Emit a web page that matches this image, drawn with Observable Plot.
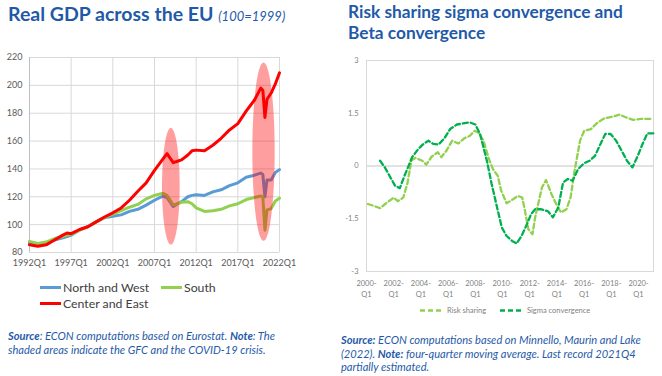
<!DOCTYPE html>
<html><head><meta charset="utf-8">
<script src="https://cdn.jsdelivr.net/npm/d3@7"></script>
<script src="https://cdn.jsdelivr.net/npm/@observablehq/plot@0.6"></script>
<style>
html,body{margin:0;padding:0;background:#fff;}
#wrap{position:relative;width:662px;height:376px;overflow:hidden;font-family:Lato,"Open Sans",sans-serif;}
#left,#right,#overlay{position:absolute;}
#left{left:0;top:40px;}
#right{left:330px;top:50px;}
#overlay{left:0;top:0;}
</style></head><body>
<div id="wrap"><div id="left"></div><div id="right"></div><svg id="overlay" width="662" height="376"></svg></div>
<script>
// ---------- Left chart data: Real GDP (100=1999) ----------
const gdpQuarters = ["1992Q1","1993Q1","1994Q1","1995Q1","1996Q1","1996Q3","1997Q1","1998Q1","1999Q1","2000Q1",
  "2001Q1","2002Q1","2003Q1","2004Q1","2005Q1","2006Q1","2007Q1","2008Q1","2008Q3","2009Q2",
  "2009Q4","2010Q2","2011Q1","2011Q3","2012Q1","2013Q1","2014Q1","2015Q1","2016Q1","2017Q1",
  "2018Q1","2019Q1","2019Q4","2020Q1","2020Q2","2020Q3","2021Q1","2021Q3","2022Q1"];
const northWest = [87,86,87,89,90.5,91.5,92.5,96,98.5,102,
  105,106,107,109.5,111,114,117.5,120.5,119.5,113,
  115,116.5,120,121,121.5,121,123.5,125,128,130,
  134,135.5,137,136,120,132,132,137.5,139.5];
const south = [88,86.5,87.5,90,91.5,92.5,93,96,98.5,102,
  105,107.5,110,112.5,114.5,118.5,121,122.5,121,114,
  115,116,116.5,115,112,109.5,110,111,113.5,115,
  118,119.5,120.5,120,96,110.5,111.5,117,119];
const centerEast = [85.5,84.5,85.5,89,92.5,94,93.5,96.5,98.5,102,
  105.5,108.5,112,117.5,124,130,139,147,151,144.5,
  145.5,146.5,150,153,153.5,153,157,162,168,172.5,
  181.5,189.5,198,196.5,177,190,194.5,201,209];
const gdpSeries = ["North and West","South","Center and East"];
const gdpColors = ["#5b9bd5","#92d050","#ff0000"];
const gdpYTicks = [80,100,120,140,160,180,200,220];
const gdpXTicks = ["1992Q1","1997Q1","2002Q1","2007Q1","2012Q1","2017Q1","2022Q1"];
// shaded crises (centre, half-width in years, centre value, half-height)
const crisisNames = ["GFC","COVID-19"];
const crisisCx = [2009.02, 2020.14];
const crisisRx = [1.06, 1.34];
const crisisCy = [127.2, 152];
const crisisRy = [41.9, 64];

// ---------- Right chart data ----------
const riskSharingT = [2000.1,2000.5,2001.0,2001.5,2002.0,2002.3,2002.7,2003.0,2003.3,2003.6,
  2004.1,2004.4,2004.8,2005.25,2005.5,2005.9,2006.3,2006.75,2007.2,2007.6,
  2007.95,2008.2,2008.6,2009.0,2009.3,2009.65,2009.9,2010.3,2010.8,2011.15,
  2011.45,2011.65,2011.9,2012.2,2012.4,2012.9,2013.2,2013.6,2014.0,2014.3,
  2014.7,2015.0,2015.3,2015.7,2016.0,2016.5,2017.0,2017.5,2018.1,2018.6,
  2019.1,2019.6,2020.2,2021.05];
const riskSharing = [-1.08,-1.13,-1.2,-1.04,-0.9,-1.0,-0.9,-0.51,0.15,0.23,
  0.15,0.04,0.27,0.39,0.25,0.45,0.72,0.64,0.79,0.86,
  1.0,0.96,0.72,0.2,-0.09,-0.28,-0.7,-1.06,-0.94,-0.85,
  -0.9,-1.27,-1.8,-1.94,-1.46,-0.61,-0.4,-0.8,-1.13,-1.32,
  -1.23,-0.9,-0.13,0.72,1.0,1.05,1.24,1.36,1.4,1.46,
  1.38,1.31,1.34,1.34];
const sigmaT = [2001.0,2001.35,2001.75,2002.1,2002.45,2002.75,2003.05,2003.35,2003.8,2004.2,
  2004.55,2004.9,2005.3,2005.75,2006.15,2006.65,2007.1,2007.6,2008.0,2008.35,
  2008.6,2008.85,2009.2,2009.6,2009.95,2010.3,2010.7,2011.05,2011.4,2011.8,
  2012.1,2012.4,2012.85,2013.35,2013.7,2014.1,2014.45,2014.8,2015.15,2015.55,
  2016.0,2016.4,2016.8,2017.15,2017.55,2017.95,2018.35,2018.75,2019.15,2019.55,
  2019.9,2020.3,2020.65,2021.1];
const sigma = [0.15,-0.04,-0.32,-0.56,-0.63,-0.32,-0.04,0.25,0.48,0.63,
  0.72,0.63,0.61,0.8,1.05,1.18,1.21,1.24,1.18,0.91,
  0.53,0.15,-0.51,-1.18,-1.75,-1.99,-2.13,-2.2,-1.99,-1.65,
  -1.37,-1.23,-1.23,-1.29,-1.46,-1.18,-0.47,-0.37,-0.42,-0.09,
  0.08,0.15,0.29,0.58,0.91,0.91,0.72,0.44,0.15,-0.04,
  0.25,0.63,0.93,0.93];
const sigmaYTicks = [3,1.5,0,-1.5,-3];
const sigmaXTicks = [2000,2002,2004,2006,2008,2010,2012,2014,2016,2018,2020];
const sigmaSeries = ["Risk sharing","Sigma convergence"];
const sigmaColors = ["#92d050","#00b050"];

const FONT = 'Lato, "Open Sans", sans-serif';
const toYear = q => +q.slice(0,4) + (+q.slice(5) - 1) / 4;

// ---------- Left chart ----------
const gdpValues = [northWest, south, centerEast];
const ellipseRows = crisisNames.flatMap((name, i) =>
  d3.range(0, 61).map(k => {
    const a = Math.PI * k / 60;
    return {label: name, x: crisisCx[i] + crisisRx[i] * Math.cos(a),
            lo: crisisCy[i] - crisisRy[i] * Math.sin(a), hi: crisisCy[i] + crisisRy[i] * Math.sin(a)};
  }));
const left = Plot.plot({
  width: 305, height: 230, marginLeft: 29, marginRight: 26, marginTop: 17, marginBottom: 18,
  style: {fontFamily: FONT, background: "transparent"},
  x: {domain: [1992, 2022], axis: null},
  y: {domain: [80, 220], axis: null},
  marks: [
    Plot.ruleY(gdpYTicks, {stroke: "#d9d9d9"}),
    Plot.ruleX(gdpXTicks.map(toYear), {stroke: "#d9d9d9"}),
    Plot.ruleX([1992], {stroke: "#bfbfbf"}),
    ...gdpSeries.map((s, i) => Plot.line(gdpQuarters, {
      x: toYear, y: (d, j) => gdpValues[i][j], stroke: gdpColors[i], strokeWidth: 3, strokeLinejoin: "round"})),
    Plot.area(ellipseRows, {x1: "x", y1: "lo", y2: "hi", z: "label", fill: "#ff0000", fillOpacity: 0.38}),
    Plot.text(gdpYTicks, {y: d => d, text: d => String(d), frameAnchor: "left", dx: -7, textAnchor: "end", fontSize: 9, fill: "#595959"}),
    Plot.text(gdpXTicks, {x: toYear, text: d => d, frameAnchor: "bottom", dy: 13, fontSize: 9, fill: "#595959"})
  ]
});
document.getElementById("left").appendChild(left);

// ---------- Right chart ----------
const sigmaRows = [riskSharingT.map((t, i) => ({t, v: riskSharing[i]})), sigmaT.map((t, i) => ({t, v: sigma[i]}))];
const right = Plot.plot({
  width: 332, height: 250, marginLeft: 36, marginRight: 9, marginTop: 10, marginBottom: 29,
  style: {fontFamily: FONT, background: "transparent"},
  x: {domain: [2000, 2021.1], axis: null},
  y: {domain: [-3, 3], axis: null},
  marks: [
    Plot.frame({stroke: "#d9d9d9"}),
    Plot.ruleY([0], {stroke: "#d9d9d9", strokeWidth: 1.5}),
    ...sigmaRows.map((rows, i) => Plot.line(rows, {x: "t", y: "v", stroke: sigmaColors[i], strokeWidth: 2.3, strokeDasharray: "5,3"})),
    Plot.text(sigmaYTicks, {y: d => d, text: d => String(d), frameAnchor: "left", dx: -8, textAnchor: "end", fontSize: 7.5, fill: "#7f7f7f"}),
    Plot.text(sigmaXTicks, {x: d => d, text: d => d + "-\nQ1", frameAnchor: "bottom", dy: 7, lineAnchor: "top", lineHeight: 1.45, fontSize: 7.5, fill: "#7f7f7f"})
  ]
});
document.getElementById("right").appendChild(right);

// ---------- Titles, legends, notes ----------
const ov = d3.select("#overlay").style("font-family", FONT);
const BLUE = "#1f5aa8";
function addText(x, y, parts, size, fill, extra = {}) {
  const t = ov.append("text").attr("x", x).attr("y", y).attr("font-size", size).attr("fill", fill);
  for (const k in extra) t.attr(k, extra[k]);
  for (const p of parts) {
    const s = t.append("tspan").text(p.t);
    if (p.b) s.attr("font-weight", "bold");
    if (p.i) s.attr("font-style", "italic");
    if (p.s) s.attr("font-size", p.s);
  }
  return t;
}
addText(8, 21, [{t: "Real GDP across the EU ", b: true}, {t: "(100=1999)", i: true, s: 13}], 19.5, BLUE);
addText(348, 18, [{t: "Risk sharing sigma convergence and", b: true}], 17.3, BLUE);
addText(348, 39, [{t: "Beta convergence", b: true}], 17.3, BLUE);

// left legend
const legPos = [[40, 287.5], [161, 287.5], [40, 303.5]];
gdpSeries.forEach((s, i) => {
  const [x, y] = legPos[i];
  ov.append("line").attr("x1", x).attr("x2", x + 21).attr("y1", y).attr("y2", y)
    .attr("stroke", gdpColors[i]).attr("stroke-width", 3);
  addText(x + 23, y + 4, [{t: s}], 12.3, "#404040");
});
// right legend
const rlegX = [420, 500];
sigmaSeries.forEach((s, i) => {
  ov.append("line").attr("x1", rlegX[i]).attr("x2", rlegX[i] + 24).attr("y1", 310.5).attr("y2", 310.5)
    .attr("stroke", sigmaColors[i]).attr("stroke-width", 2.3).attr("stroke-dasharray", "5,3");
  addText(rlegX[i] + 27, 313, [{t: s}], 7.5, "#7f7f7f");
});

// notes
addText(8, 340, [{t: "Source", b: true, i: true}, {t: ": ECON computations based on Eurostat. ", i: true}, {t: "Note", b: true, i: true}, {t: ": The", i: true}], 11.1, BLUE);
addText(8, 353.5, [{t: "shaded areas indicate the GFC and the COVID-19 crisis.", i: true}], 11.1, BLUE);
addText(341, 344, [{t: "Source:", b: true, i: true}, {t: " ECON computations based on Minnello, Maurin and Lake", i: true}], 11.1, BLUE);
addText(341, 357.5, [{t: "(2022). ", i: true}, {t: "Note:", b: true, i: true}, {t: " four-quarter moving average. Last record 2021Q4", i: true}], 11.1, BLUE);
addText(341, 370.5, [{t: "partially estimated.", i: true}], 11.1, BLUE);
</script>
</body></html>
